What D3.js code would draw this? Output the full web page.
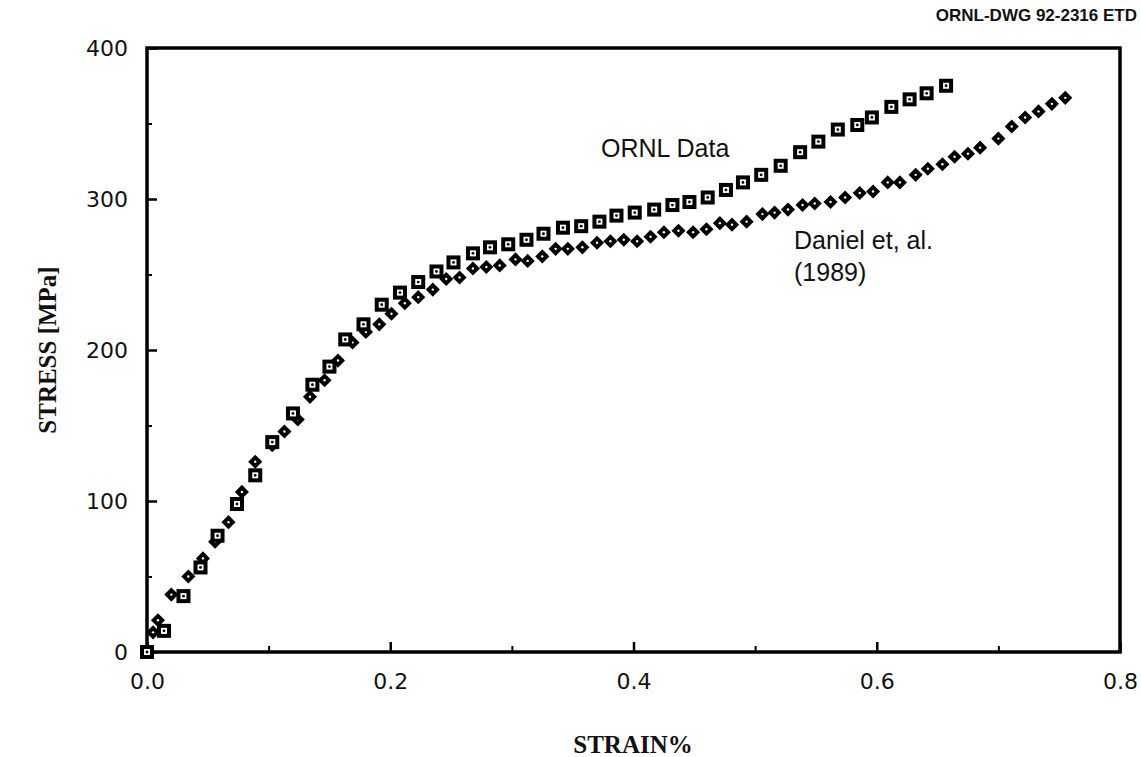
<!DOCTYPE html>
<html>
<head>
<meta charset="utf-8">
<script src="https://cdn.jsdelivr.net/npm/d3@7"></script>
<style>
  html, body { margin: 0; padding: 0; background: #fff; }
  svg { display: block; }
</style>
</head>
<body>
<svg id="chart" width="1141" height="757"></svg>
<script>
// Stress–strain data: ORNL tests vs. Daniel et al. (1989)
const ornlStrain = [0, 0.014, 0.030, 0.044, 0.058, 0.074, 0.089, 0.103, 0.120, 0.136, 0.150, 0.163, 0.178, 0.193, 0.208, 0.223, 0.238, 0.252, 0.268, 0.282, 0.297, 0.312, 0.326, 0.342, 0.357, 0.372, 0.386, 0.401, 0.417, 0.432, 0.446, 0.461, 0.476, 0.490, 0.505, 0.521, 0.537, 0.552, 0.568, 0.584, 0.596, 0.612, 0.627, 0.641, 0.657];
const ornlStress = [0, 14, 37, 56, 77, 98, 117, 139, 158, 177, 189, 207, 217, 230, 238, 245, 252, 258, 264, 268, 270, 273, 277, 281, 282, 285, 289, 291, 293, 296, 298, 301, 306, 311, 316, 322, 331, 338, 346, 349, 354, 361, 366, 370, 375];

const danielStrain = [0.005, 0.009, 0.020, 0.034, 0.046, 0.056, 0.067, 0.078, 0.089, 0.103, 0.113, 0.124, 0.134, 0.146, 0.157, 0.169, 0.180, 0.191, 0.201, 0.212, 0.223, 0.235, 0.246, 0.257, 0.268, 0.279, 0.290, 0.303, 0.313, 0.325, 0.336, 0.346, 0.358, 0.370, 0.381, 0.392, 0.403, 0.414, 0.425, 0.437, 0.449, 0.460, 0.471, 0.481, 0.493, 0.506, 0.516, 0.527, 0.539, 0.549, 0.562, 0.574, 0.586, 0.597, 0.609, 0.619, 0.632, 0.642, 0.654, 0.664, 0.675, 0.685, 0.700, 0.711, 0.722, 0.733, 0.744, 0.755];
const danielStress = [13, 21, 38, 50, 62, 73, 86, 106, 126, 137, 146, 154, 169, 180, 193, 205, 212, 217, 224, 231, 235, 240, 247, 248, 254, 255, 256, 260, 259, 262, 267, 267, 268, 271, 272, 273, 272, 275, 278, 279, 278, 280, 284, 283, 285, 290, 291, 293, 296, 297, 298, 301, 304, 305, 311, 311, 316, 320, 323, 328, 330, 334, 340, 348, 354, 358, 363, 367];

const xMajorTicks = [0, 0.2, 0.4, 0.6, 0.8];
const xMinorTicks = [0.1, 0.3, 0.5, 0.7];
const yMajorTicks = [0, 100, 200, 300, 400];
const yMinorTicks = [50, 150, 250, 350];

const svg = d3.select("#chart");
const plot = { left: 147, right: 1120, top: 48, bottom: 652 };

const x = d3.scaleLinear().domain([0, 0.8]).range([plot.left, plot.right]);
const y = d3.scaleLinear().domain([0, 400]).range([plot.bottom, plot.top]);

const ink = "#000";
const tickFont = "'DejaVu Sans', sans-serif";

// y axis: major ticks with labels, short minor ticks, all pointing inward
const yAxis = d3.axisLeft(y).tickValues(yMajorTicks).tickSize(-10).tickPadding(19).tickFormat(d3.format("d"));
const gy = svg.append("g").attr("transform", `translate(${plot.left},0)`).call(yAxis);
gy.select(".domain").remove();
gy.selectAll(".tick line").attr("stroke", ink).attr("stroke-width", 2.5);
gy.selectAll(".tick text").attr("font-family", tickFont).attr("font-size", 22).attr("fill", "#111");
svg.append("g").attr("transform", `translate(${plot.left},0)`)
  .call(d3.axisLeft(y).tickValues(yMinorTicks).tickSize(-5).tickFormat(""))
  .call(g => g.select(".domain").remove())
  .selectAll(".tick line").attr("stroke", ink).attr("stroke-width", 2);

// x axis
const xAxis = d3.axisBottom(x).tickValues(xMajorTicks).tickSize(-10).tickPadding(21).tickFormat(d3.format(".1f"));
const gx = svg.append("g").attr("transform", `translate(0,${plot.bottom})`).call(xAxis);
gx.select(".domain").remove();
gx.selectAll(".tick line").attr("stroke", ink).attr("stroke-width", 2.5);
gx.selectAll(".tick text").attr("font-family", tickFont).attr("font-size", 22).attr("fill", "#111");
svg.append("g").attr("transform", `translate(0,${plot.bottom})`)
  .call(d3.axisBottom(x).tickValues(xMinorTicks).tickSize(-6).tickFormat(""))
  .call(g => g.select(".domain").remove())
  .selectAll(".tick line").attr("stroke", ink).attr("stroke-width", 2);

// plot frame
svg.append("rect")
  .attr("x", plot.left).attr("y", plot.top)
  .attr("width", plot.right - plot.left).attr("height", plot.bottom - plot.top)
  .attr("fill", "none").attr("stroke", ink).attr("stroke-width", 3.5);

// Daniel et al. – filled diamonds with a small light centre
const daniel = danielStrain.map((s, i) => ({ s, v: danielStress[i] }));
const dg = svg.append("g");
dg.selectAll("path.dia").data(daniel).join("path")
  .attr("class", "dia")
  .attr("transform", d => `translate(${x(d.s)},${y(d.v)}) rotate(45)`)
  .attr("d", d3.symbol(d3.symbolSquare, 100)())
  .attr("fill", ink);
dg.selectAll("circle").data(daniel).join("circle")
  .attr("cx", d => x(d.s)).attr("cy", d => y(d.v))
  .attr("r", 1.2).attr("fill", "#fff");

// ORNL data – open squares with a dot in the centre
const ornl = ornlStrain.map((s, i) => ({ s, v: ornlStress[i] }));
const og = svg.append("g");
og.selectAll("rect").data(ornl).join("rect")
  .attr("x", d => x(d.s) - 5).attr("y", d => y(d.v) - 5)
  .attr("width", 10).attr("height", 10)
  .attr("fill", "#fff").attr("stroke", ink).attr("stroke-width", 4);
og.selectAll("circle").data(ornl).join("circle")
  .attr("cx", d => x(d.s)).attr("cy", d => y(d.v))
  .attr("r", 1.4).attr("fill", ink);

// series labels
const labelFont = "'Liberation Sans', Arial, sans-serif";
svg.append("text").attr("x", 601).attr("y", 157)
  .attr("font-family", labelFont).attr("font-size", 25).attr("fill", "#111")
  .text("ORNL Data");
svg.append("text").attr("x", 794).attr("y", 249)
  .attr("font-family", labelFont).attr("font-size", 25).attr("fill", "#111")
  .text("Daniel et, al.");
svg.append("text").attr("x", 794).attr("y", 281)
  .attr("font-family", labelFont).attr("font-size", 25).attr("fill", "#111")
  .text("(1989)");

// drawing number
svg.append("text").attr("x", 1137).attr("y", 21).attr("text-anchor", "end")
  .attr("font-family", labelFont).attr("font-size", 17).attr("font-weight", "bold").attr("fill", "#111")
  .text("ORNL-DWG 92-2316 ETD");

// axis titles
const titleFont = "'Liberation Serif', 'Times New Roman', serif";
svg.append("text").attr("x", 633).attr("y", 753).attr("text-anchor", "middle")
  .attr("font-family", titleFont).attr("font-size", 25).attr("font-weight", "bold").attr("fill", "#111")
  .text("STRAIN%");
svg.append("text")
  .attr("transform", "translate(56,350) rotate(-90)").attr("text-anchor", "middle")
  .attr("font-family", titleFont).attr("font-size", 25).attr("font-weight", "bold").attr("fill", "#111")
  .text("STRESS [MPa]");
</script>
</body>
</html>
